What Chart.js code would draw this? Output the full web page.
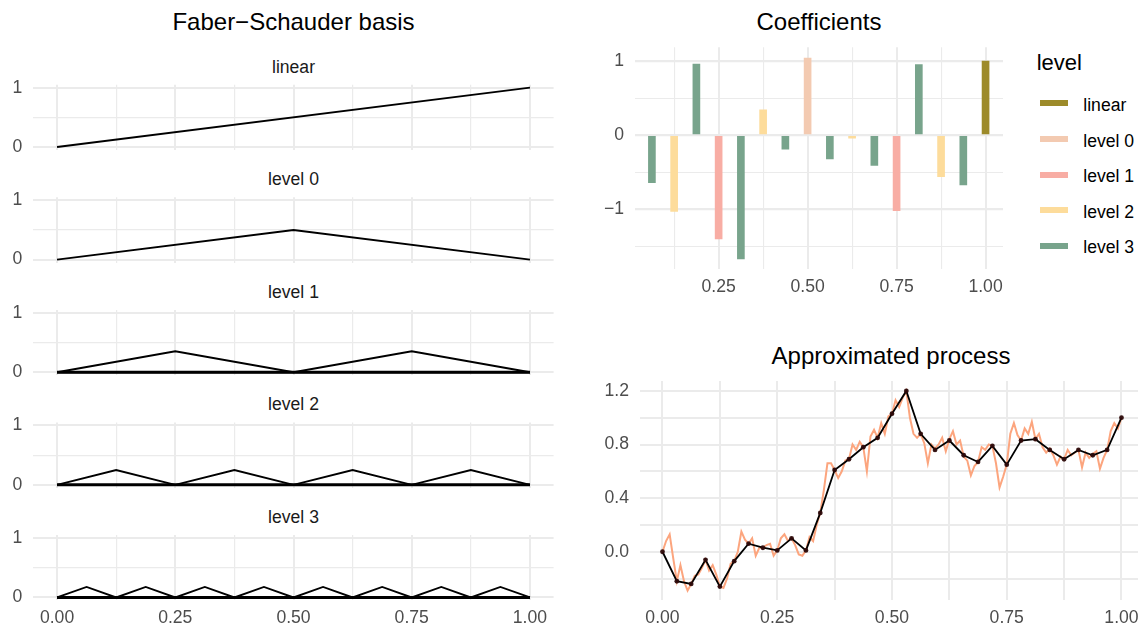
<!DOCTYPE html>
<html><head><meta charset="utf-8">
<script src="https://cdn.jsdelivr.net/npm/chart.js@4.4.1/dist/chart.umd.min.js"></script>
<style>
html,body{margin:0;padding:0;background:#fff;}
body{width:1142px;height:630px;position:relative;overflow:hidden;font-family:"Liberation Sans",Arial,Helvetica,sans-serif;}
canvas{position:absolute;}
.t{position:absolute;white-space:nowrap;}
.title{font-size:24px;line-height:24px;color:#000;transform:translateX(-50%);}
.strip{font-size:17.6px;line-height:18px;color:#1A1A1A;transform:translateX(-50%);}
.lg{font-size:17.6px;line-height:18px;color:#000;}
.sw{position:absolute;width:28px;height:6px;}
</style></head><body>
<script>
// ---------------- DATA ----------------
// Faber-Schauder basis (left panel)
const basisLevels = ['linear', 'level 0', 'level 1', 'level 2', 'level 3'];
const basisPeakX = [
  [1],
  [0.5],
  [0.25, 0.75],
  [0.125, 0.375, 0.625, 0.875],
  [0.0625, 0.1875, 0.3125, 0.4375, 0.5625, 0.6875, 0.8125, 0.9375]
];
const basisPeakY = [1, 0.5, 0.354, 0.25, 0.177];
const basisHalfWidth = [1, 0.5, 0.25, 0.125, 0.0625];

// Coefficients (top right)
const coefX = [0.0625, 0.125, 0.1875, 0.25, 0.3125, 0.375, 0.4375, 0.5, 0.5625, 0.625, 0.6875, 0.75, 0.8125, 0.875, 0.9375, 1.0];
const coefLevel = ['level 3', 'level 2', 'level 3', 'level 1', 'level 3', 'level 2', 'level 3', 'level 0',
                   'level 3', 'level 2', 'level 3', 'level 1', 'level 3', 'level 2', 'level 3', 'linear'];
const coefValue = [-0.64, -1.03, 0.96, -1.40, -1.67, 0.34, -0.19, 1.04, -0.32, -0.04, -0.41, -1.02, 0.95, -0.56, -0.67, 1.00];
const legendLevels = ['linear', 'level 0', 'level 1', 'level 2', 'level 3'];
const legendColors = ['#9D8B2A', '#F3CAB1', '#F8ADA4', '#FDDC9B', '#78A48C'];

// Approximated process (bottom right)
const processValues = [
  0.00, 0.08, 0.13, -0.05, -0.22, -0.10, -0.22, -0.29, -0.24, -0.18, -0.17, -0.12, -0.06, -0.14, -0.10, -0.17,
  -0.26, -0.27, -0.20, -0.09, -0.07, 0.00, 0.15, 0.09, 0.06, 0.10, -0.03, 0.03, 0.03, 0.05, 0.06, -0.03, 0.01,
  0.10, 0.13, 0.08, 0.10, 0.05, -0.02, -0.03, 0.01, 0.11, 0.08, 0.20, 0.29, 0.46, 0.66, 0.66, 0.61,
  0.55, 0.60, 0.68, 0.69, 0.80, 0.76, 0.82, 0.78, 0.60, 0.86, 0.91, 0.85, 0.96, 0.88, 1.01, 1.03,
  1.13, 1.08, 1.15, 1.20, 1.00, 0.88, 0.85, 0.88, 0.81, 0.66, 0.80, 0.77, 0.80, 0.85, 0.75, 0.84,
  0.90, 0.80, 0.83, 0.71, 0.68, 0.57, 0.64, 0.67, 0.78, 0.76, 0.80, 0.79, 0.66, 0.48, 0.56, 0.65,
  0.88, 0.96, 0.87, 0.83, 0.92, 0.88, 0.97, 0.84, 0.88, 0.78, 0.74, 0.77, 0.72, 0.65, 0.71, 0.69,
  0.76, 0.72, 0.74, 0.76, 0.63, 0.74, 0.70, 0.73, 0.75, 0.62, 0.70, 0.76, 0.90, 0.96, 0.92, 1.00
];
const approxValues = [0.00, -0.22, -0.24, -0.06, -0.26, -0.07, 0.06, 0.03, 0.01, 0.10, 0.01, 0.29, 0.61, 0.69, 0.78, 0.85,
  1.03, 1.20, 0.88, 0.76, 0.83, 0.72, 0.67, 0.79, 0.65, 0.83, 0.84, 0.76, 0.69, 0.76, 0.72, 0.76, 1.00];

// tick positions
const basisXTicks = [0, 0.125, 0.25, 0.375, 0.5, 0.625, 0.75, 0.875, 1];
const basisYTicks = [0, 0.5, 1];
const coefXTicks = [0.125, 0.25, 0.375, 0.5, 0.625, 0.75, 0.875, 1];
const coefYTicks = [-1.5, -1, -0.5, 0, 0.5, 1];
const procXTicks = [0, 0.125, 0.25, 0.375, 0.5, 0.625, 0.75, 0.875, 1];
const procYTicks = [-0.2, 0, 0.2, 0.4, 0.6, 0.8, 1.0, 1.2];

// ---------------- HELPERS ----------------
const FONT = '"Liberation Sans", Arial, Helvetica, sans-serif';
Chart.defaults.font.family = FONT;
const GRID = '#EBEBEB';
const TICKFONT = {family: FONT, size: 17.6};
const TICKCOL = '#4D4D4D';
const isMult = (v, s) => Math.abs(v / s - Math.round(v / s)) < 1e-6;
const fmtMinus = s => s.replace('-', '\u2212');

function scale(o) {
  return {
    type: 'linear', min: o.min, max: o.max, offset: false,
    afterBuildTicks: s => { s.ticks = o.ticks.map(v => ({value: v})); },
    afterFit: s => {
      if (o.axis === 'y') { s.width = o.size; s.paddingTop = 0; s.paddingBottom = 0; }
      else { s.height = o.size; s.paddingLeft = 0; s.paddingRight = 0; }
    },
    ticks: {
      display: o.show, autoSkip: false, maxRotation: 0, minRotation: 0,
      padding: o.axis === 'y' ? 11 : 7.5, color: TICKCOL, font: TICKFONT,
      callback: v => isMult(v, o.labelStep) ? fmtMinus(o.fmt(v)) : ''
    },
    grid: {
      color: GRID, drawTicks: false, offset: false,
      lineWidth: c => (c.tick && isMult(c.tick.value, o.labelStep)) ? o.majorW : o.minorW
    },
    border: {display: false}
  };
}

function addCanvas(left, top, w, h) {
  const c = document.createElement('canvas');
  c.width = w; c.height = h;
  c.style.left = left + 'px'; c.style.top = top + 'px';
  c.style.width = w + 'px'; c.style.height = h + 'px';
  document.body.appendChild(c);
  return c.getContext('2d');
}
function addText(cls, text, left, top) {
  const d = document.createElement('div');
  d.className = 't ' + cls; d.textContent = text;
  d.style.left = left + 'px'; d.style.top = top + 'px';
  document.body.appendChild(d);
  return d;
}
const baseOpts = {responsive: false, animation: false, events: [], plugins: {legend: {display: false}, tooltip: {enabled: false}, title: {display: false}}};

// ---------------- LEFT: basis facets ----------------
addText('title', 'Faber\u2212Schauder basis', 293.5, 10.4);
const facetStep = 112.6, firstTop = 84.7, plotH = 65.3;
basisLevels.forEach((lvl, k) => {
  const plotTop = firstTop + facetStep * k;
  const last = k === basisLevels.length - 1;
  const cTop = Math.floor(plotTop) - 10;
  const padTop = plotTop - cTop;
  const xH = last ? 30 : 0;
  const H = Math.ceil(padTop + plotH + xH + 7);
  const padBottom = H - padTop - plotH - xH;
  addText('strip', lvl, 293.5, 57.6 + facetStep * k);
  const datasets = [];
  const w = basisHalfWidth[k], h = basisPeakY[k];
  basisPeakX[k].forEach(c => {
    let pts;
    if (lvl === 'linear') pts = [{x: 0, y: 0}, {x: c, y: h}];
    else pts = [{x: 0, y: 0}, {x: c - w, y: 0}, {x: c, y: h}, {x: c + w, y: 0}, {x: 1, y: 0}];
    datasets.push({data: pts, borderColor: '#000', borderWidth: 1.9, pointRadius: 0, tension: 0});
  });
  if (basisPeakX[k].length > 1) {
    datasets.push({data: [{x: 0, y: 0}, {x: 1, y: 0}], borderColor: '#000', borderWidth: 3, pointRadius: 0});
  }
  new Chart(addCanvas(0, cTop, 560, H), {
    type: 'line',
    data: {datasets},
    options: Object.assign({}, baseOpts, {
      layout: {padding: {left: 0, right: 6.4, top: padTop, bottom: padBottom}},
      scales: {
        x: scale({axis: 'x', min: -0.05, max: 1.05, ticks: basisXTicks, labelStep: 0.25, fmt: v => v.toFixed(2), show: last, majorW: 2, minorW: 1.2, size: xH}),
        y: scale({axis: 'y', min: -0.05, max: 1.05, ticks: basisYTicks, labelStep: 1, fmt: v => String(v), show: true, majorW: 2, minorW: 1.2, size: 33.4})
      }
    })
  });
});

// ---------------- TOP RIGHT: coefficients ----------------
addText('title', 'Coefficients', 819, 10.2);
(function () {
  const cTop = 37, plotTop = 47.2, plotBottom = 268.6, xH = 30, H = 264;
  const datasets = legendLevels.map((name, i) => ({
    label: name,
    data: coefX.map((x, j) => coefLevel[j] === name ? {x: x, y: coefValue[j]} : null).filter(p => p),
    backgroundColor: legendColors[i], borderWidth: 0, barThickness: 7, grouped: false
  }));
  new Chart(addCanvas(560, cTop, 450, H), {
    type: 'bar',
    data: {datasets},
    options: Object.assign({}, baseOpts, {
      layout: {padding: {left: 0, right: 7, top: plotTop - cTop, bottom: H - (plotBottom - cTop) - xH}},
      scales: {
        x: scale({axis: 'x', min: 0.015, max: 1.049, ticks: coefXTicks, labelStep: 0.25, fmt: v => v.toFixed(2), show: true, majorW: 2, minorW: 1.1, size: xH}),
        y: scale({axis: 'y', min: -1.80, max: 1.186, ticks: coefYTicks, labelStep: 1, fmt: v => String(v), show: true, majorW: 2.2, minorW: 1.1, size: 75})
      }
    })
  });
  // legend
  addText('lg', 'level', 1036.7, 54.1).style.fontSize = '22px';
  const rowY = [103.3, 139, 174.6, 210.2, 245.8];
  legendLevels.forEach((name, i) => {
    const s = document.createElement('div');
    s.className = 'sw'; s.style.left = '1040px'; s.style.top = (rowY[i] - 3) + 'px';
    s.style.background = legendColors[i];
    document.body.appendChild(s);
    addText('lg', name, 1083.3, rowY[i] - 7.4);
  });
})();

// ---------------- BOTTOM RIGHT: approximated process ----------------
addText('title', 'Approximated process', 891, 343.7);
(function () {
  const cTop = 371, plotTop = 381, plotBottom = 600, xH = 30, H = 259;
  const procData = processValues.map((v, i) => ({x: i / (processValues.length - 1), y: v}));
  const apprData = approxValues.map((v, i) => ({x: i / (approxValues.length - 1), y: v}));
  new Chart(addCanvas(560, cTop, 582, H), {
    type: 'line',
    data: {datasets: [
      {data: apprData, borderColor: '#000', borderWidth: 1.8, pointRadius: 2.4, pointBackgroundColor: 'rgba(45,10,10,0.95)', pointBorderWidth: 0, tension: 0, order: 0},
      {data: procData, borderColor: '#FCA57E', borderWidth: 2, pointRadius: 0, tension: 0, order: 1}
    ]},
    options: Object.assign({}, baseOpts, {
      layout: {padding: {left: 0, right: 0, top: plotTop - cTop, bottom: H - (plotBottom - cTop) - xH}},
      scales: {
        x: scale({axis: 'x', min: -0.049, max: 1.036, ticks: procXTicks, labelStep: 0.25, fmt: v => v.toFixed(2), show: true, majorW: 2, minorW: 2, size: xH}),
        y: scale({axis: 'y', min: -0.36, max: 1.274, ticks: procYTicks, labelStep: 0.4, fmt: v => v.toFixed(1), show: true, majorW: 2, minorW: 2, size: 80})
      }
    })
  });
})();
</script>
</body></html>
